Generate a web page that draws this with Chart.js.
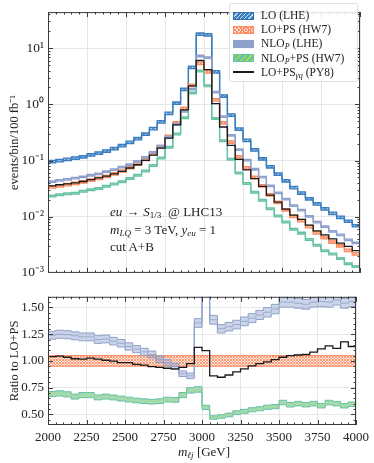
<!DOCTYPE html>
<html>
<head>
<meta charset="utf-8">
<script src="https://cdn.jsdelivr.net/npm/chart.js@4"></script>
<style>
  body { margin: 0; background: #fff; }
  #wrap { position: relative; width: 374px; height: 463px; font-family: "Liberation Serif", serif; color: #222; }
  canvas { position: absolute; left: 0; }
  #topChart { top: 0; }
  #ratioChart { top: 285px; }
  sub { font-size: 70%; vertical-align: -0.25em; line-height: 0; }
  .legend { position: absolute; left: 229px; top: 3px; width: 129px; height: 79px;
            background: rgba(255,255,255,0.85); border: 1px solid #e2e2e2; border-radius: 2px;
            box-sizing: border-box; padding-top: 4px; font-size: 11.5px; }
  .row { position: relative; height: 14.2px; line-height: 14.2px; padding-left: 31px; white-space: nowrap; }
  .sw { position: absolute; left: 3px; top: 3.5px; width: 19px; height: 6px; }
  .line { position: absolute; left: 3px; top: 6.5px; width: 21px; height: 1.4px; background: #1a1a1a; }
  .note { position: absolute; left: 110px; top: 203px; font-size: 13px; line-height: 17.5px; }
  .op { padding: 0 4px; }
  .xtitle { position: absolute; left: 48px; width: 312px; top: 444px; text-align: center; font-size: 13px; }
</style>
</head>
<body>
<div id="wrap">
  <canvas id="topChart" width="374" height="285"></canvas>
  <canvas id="ratioChart" width="374" height="178"></canvas>
  <div class="legend">
    <div class="row"><span class="sw" style="background: repeating-linear-gradient(135deg, #3a7dbf 0 2px, #cfe1f3 2px 3px); border: 1px solid #2f70b0;"></span>LO (LHE)</div>
    <div class="row"><span class="sw" style="background: repeating-linear-gradient(45deg, #fc8d62 0 1px, transparent 1px 2.5px), repeating-linear-gradient(135deg, #fc8d62 0 1px, #fde6dc 1px 2.5px); border: 1px solid #fc8d62;"></span>LO+PS (HW7)</div>
    <div class="row"><span class="sw" style="background: #8fa1cd; border: 1px solid #8da0cb;"></span>NLO<sub><i>P</i></sub> (LHE)</div>
    <div class="row"><span class="sw" style="background: repeating-linear-gradient(135deg, #a6d854 0 1.5px, #66c2a5 1.5px 4px); border: 1px solid #66c2a5;"></span>NLO<sub><i>P</i></sub>+PS (HW7)</div>
    <div class="row"><span class="line"></span>LO+PS<sub><i>γq</i></sub> (PY8)</div>
  </div>
  <div class="note">
    <div><i>eu</i><span class="op">→</span><i>S</i><sub>1/3</sub>&nbsp; @ LHC13</div>
    <div><i>m<sub>LQ</sub></i> = 3 TeV, <i>y<sub>eu</sub></i> = 1</div>
    <div>cut A+B</div>
  </div>
  <div class="xtitle"><i>m</i><sub><i>ℓj</i></sub> [GeV]</div>
</div>
<script>
// bins de 50 GeV
const binLow = [2000, 2050, 2100, 2150, 2200, 2250, 2300, 2350, 2400, 2450,
                2500, 2550, 2600, 2650, 2700, 2750, 2800, 2850, 2900, 2950,
                3000, 3050, 3100, 3150, 3200, 3250, 3300, 3350, 3400, 3450,
                3500, 3550, 3600, 3650, 3700, 3750, 3800, 3850, 3900, 3950];
const binEnd = 4000;

// panel de arriba: events/bin/100 fb^-1
const loLHE = [0.0955, 0.100, 0.105, 0.111, 0.117, 0.126, 0.136, 0.148, 0.164, 0.184,
               0.211, 0.245, 0.295, 0.372, 0.490, 0.692, 1.05, 1.86, 4.57, 17.8,
               17.4, 3.80, 1.41, 0.646, 0.363, 0.229, 0.155, 0.107, 0.0776, 0.0575,
               0.0437, 0.0331, 0.0263, 0.0209, 0.0170, 0.0138, 0.0115, 0.00977, 0.00832, 0.00692];
const loPsHW7 = [0.0339, 0.0355, 0.0372, 0.0394, 0.0417, 0.0447, 0.0484, 0.0525, 0.0582, 0.0653,
                 0.0750, 0.0871, 0.105, 0.132, 0.178, 0.269, 0.468, 0.851, 2.19, 5.37,
                 3.80, 1.20, 0.468, 0.214, 0.117, 0.0741, 0.0501, 0.0355, 0.0245, 0.0180,
                 0.0132, 0.0102, 0.00851, 0.00668, 0.00519, 0.00427, 0.00355, 0.00302, 0.00251, 0.00219];
const nloLHE = [0.0420, 0.0444, 0.0463, 0.0487, 0.0511, 0.0548, 0.0581, 0.0633, 0.0690, 0.0761,
                0.0851, 0.0967, 0.114, 0.140, 0.181, 0.264, 0.444, 0.749, 1.88, 7.28,
                6.84, 1.66, 0.608, 0.282, 0.157, 0.1015, 0.0701, 0.0508, 0.0356, 0.0267,
                0.0205, 0.0158, 0.0131, 0.0102, 0.00804, 0.00664, 0.00550, 0.00474, 0.00387, 0.00341];
const nloPsHW7 = [0.0234, 0.0247, 0.0256, 0.0262, 0.0284, 0.0304, 0.0318, 0.0350, 0.0383, 0.0422,
                  0.0479, 0.0548, 0.0654, 0.0816, 0.111, 0.172, 0.297, 0.579, 1.59, 3.94,
                  2.15, 0.564, 0.225, 0.106, 0.0603, 0.0391, 0.0272, 0.0196, 0.0139, 0.0103,
                  0.00805, 0.00601, 0.00511, 0.00393, 0.00311, 0.00248, 0.00217, 0.00181, 0.00146, 0.00130];
const loPsPY8 = [0.0353, 0.0371, 0.0385, 0.0402, 0.0424, 0.0459, 0.0492, 0.0528, 0.0580, 0.0642,
                 0.0737, 0.0843, 0.101, 0.125, 0.167, 0.250, 0.433, 0.800, 2.13, 6.05,
                 4.17, 1.03, 0.396, 0.186, 0.105, 0.0685, 0.0478, 0.0346, 0.0243, 0.0182,
                 0.0137, 0.0107, 0.00898, 0.00708, 0.00562, 0.00475, 0.00405, 0.00338, 0.00296, 0.00249];

// panel de abajo: cociente respecto a LO+PS (HW7)
const ratioLoPs = [1, 1, 1, 1, 1, 1, 1, 1, 1, 1, 1, 1, 1, 1, 1, 1, 1, 1, 1, 1,
                   1, 1, 1, 1, 1, 1, 1, 1, 1, 1, 1, 1, 1, 1, 1, 1, 1, 1, 1, 1];
const ratioNlo = [1.24, 1.25, 1.245, 1.235, 1.225, 1.225, 1.20, 1.205, 1.185, 1.165,
                  1.135, 1.11, 1.085, 1.06, 1.015, 0.983, 0.948, 0.88, 0.86, 1.355,
                  1.80, 1.385, 1.30, 1.32, 1.34, 1.37, 1.40, 1.43, 1.455, 1.485,
                  1.55, 1.55, 1.54, 1.53, 1.55, 1.555, 1.55, 1.57, 1.54, 1.555];
const ratioNloPs = [0.69, 0.696, 0.687, 0.666, 0.68, 0.68, 0.658, 0.666, 0.658, 0.647,
                    0.638, 0.629, 0.623, 0.618, 0.623, 0.638, 0.635, 0.68, 0.724, 0.733,
                    0.565, 0.47, 0.48, 0.494, 0.515, 0.528, 0.543, 0.552, 0.566, 0.572,
                    0.61, 0.589, 0.60, 0.589, 0.60, 0.58, 0.61, 0.60, 0.58, 0.595];
const ratioPy8 = [1.04, 1.045, 1.034, 1.02, 1.017, 1.026, 1.017, 1.006, 0.997, 0.983,
                  0.983, 0.968, 0.96, 0.946, 0.94, 0.931, 0.925, 0.94, 0.974, 1.126,
                  1.097, 0.86, 0.847, 0.868, 0.897, 0.925, 0.954, 0.974, 0.991, 1.011,
                  1.034, 1.049, 1.055, 1.06, 1.083, 1.112, 1.14, 1.118, 1.178, 1.135];

// incertidumbre relativa de cada banda
const uncLo = 0.05, uncLoPs = 0.05, uncNlo = 0.03, uncNloPs = 0.035;

// ticks
const xTicks = [2000, 2250, 2500, 2750, 3000, 3250, 3500, 3750, 4000];
const topTicks = [1e-3, 1e-2, 1e-1, 1, 10];
const topTickLabels = ['10⁻³', '10⁻²', '10⁻¹', '10⁰', '10¹'];
const ratioTicks = [0.5, 0.75, 1.0, 1.25, 1.5];

const serif = '"Liberation Serif", serif';

// js de los patrones rayados
function hatch(canvas, bg, fg, gap, cross) {
    const c = document.createElement('canvas');
    c.width = gap; c.height = gap;
    const g = c.getContext('2d');
    g.fillStyle = bg;
    g.fillRect(0, 0, gap, gap);
    g.strokeStyle = fg;
    g.lineWidth = 1;
    g.beginPath();
    for (let k = -1; k <= 1; k++) {
        g.moveTo(k * gap, gap); g.lineTo(k * gap + gap, 0);
        if (cross) { g.moveTo(k * gap, 0); g.lineTo(k * gap + gap, gap); }
    }
    g.stroke();
    return canvas.getContext('2d').createPattern(c, 'repeat');
}

function steps(vals, f) {
    const pts = vals.map((v, i) => ({ x: binLow[i], y: f ? f(v) : v }));
    pts.push({ x: binEnd, y: pts[pts.length - 1].y });
    return pts;
}

function band(sets, vals, unc, edge, fillStyle, order, width, center) {
    const lowIdx = sets.length;
    sets.push({ data: steps(vals, v => v * (1 - unc)), borderColor: edge, borderWidth: width, fill: false, order: order });
    sets.push({ data: steps(vals, v => v * (1 + unc)), borderColor: edge, borderWidth: width,
                backgroundColor: fillStyle, fill: { target: lowIdx }, order: order });
    if (center) {
        sets.push({ data: steps(vals), borderColor: center, borderWidth: 0.8, fill: false, order: order });
    }
}

// js de las marcas hacia adentro y el marco
const frameTicks = {
    id: 'frameTicks',
    afterDraw(chart, args, opts) {
        const { ctx, chartArea: a, scales } = chart;
        ctx.save();
        ctx.strokeStyle = '#3a3a3a';
        ctx.lineWidth = 1;
        ctx.beginPath();
        for (let v = 2000; v <= 4000; v += 50) {
            const x = Math.round(scales.x.getPixelForValue(v)) + 0.5;
            const len = v % 250 === 0 ? 5 : 2.5;
            ctx.moveTo(x, a.bottom); ctx.lineTo(x, a.bottom - len);
            ctx.moveTo(x, a.top); ctx.lineTo(x, a.top + len);
        }
        const yTick = (v, len) => {
            const y = Math.round(scales.y.getPixelForValue(v)) + 0.5;
            if (y < a.top || y > a.bottom) return;
            ctx.moveTo(a.left, y); ctx.lineTo(a.left + len, y);
            ctx.moveTo(a.right, y); ctx.lineTo(a.right - len, y);
        };
        opts.major.forEach(v => yTick(v, 5));
        opts.minor.forEach(v => yTick(v, 2.5));
        ctx.stroke();
        ctx.strokeRect(a.left + 0.5, a.top + 0.5, a.right - a.left - 1, a.bottom - a.top - 1);
        ctx.restore();
    }
};

const topMinor = [];
[-3, -2, -1, 0, 1].forEach(n => {
    for (let k = 2; k <= 9; k++) {
        const v = k * Math.pow(10, n);
        if (v <= 44) topMinor.push(v);
    }
});
const ratioMinor = [];
for (let k = 8; k <= 32; k++) {
    const v = k * 0.05;
    if (k % 5 !== 0) ratioMinor.push(v);
}

// primer grafico (arriba)
const topCanvas = document.getElementById('topChart');
const topSets = [];
band(topSets, loLHE, uncLo, '#3a7dbf', hatch(topCanvas, '#5b98d2', '#d3e4f4', 4, false), 5, 1.3);
band(topSets, loPsHW7, uncLoPs, '#fc8d62', hatch(topCanvas, '#fde2d6', '#fc8d62', 3, true), 4, 1.3);
band(topSets, nloLHE, uncNlo, '#8da0cb', 'rgba(141,160,203,0.55)', 3, 1.3);
band(topSets, nloPsHW7, uncNloPs, '#66c2a5', hatch(topCanvas, '#8fd2ba', '#c6e36a', 4, false), 2, 1.3);
topSets.push({ data: steps(loPsPY8), borderColor: '#1a1a1a', borderWidth: 1.3, fill: false, order: 1 });

new Chart(topCanvas, {
    type: 'line',
    data: { datasets: topSets },
    options: {
        responsive: false,
        animation: false,
        devicePixelRatio: 1,
        layout: { padding: { left: 0, right: 14, top: 3, bottom: 0 } },
        elements: { point: { radius: 0 }, line: { stepped: true, tension: 0 } },
        plugins: {
            legend: { display: false },
            tooltip: { enabled: false },
            frameTicks: { major: topTicks, minor: topMinor }
        },
        scales: {
            x: {
                type: 'linear', min: 2000, max: 4000,
                afterBuildTicks: s => { s.ticks = xTicks.map(v => ({ value: v })); },
                ticks: { display: false },
                grid: { color: '#e6e6e6', lineWidth: 1, drawTicks: false },
                border: { display: false },
                afterFit: s => { s.height = 9; }
            },
            y: {
                type: 'logarithmic', min: 1e-3, max: 44,
                afterBuildTicks: s => { s.ticks = topTicks.map(v => ({ value: v })); },
                ticks: {
                    callback: v => topTickLabels[topTicks.indexOf(v)],
                    font: { family: serif, size: 13.5 }, color: '#222', padding: 4
                },
                grid: { color: '#e6e6e6', lineWidth: 1, drawTicks: false },
                border: { display: false },
                title: { display: true, text: 'events/bin/100 fb⁻¹', font: { family: serif, size: 12.5 }, color: '#222', padding: { top: 7, bottom: 0 } },
                afterFit: s => { s.width = 48; }
            }
        }
    },
    plugins: [frameTicks]
});

// segundo grafico (cociente)
const ratioCanvas = document.getElementById('ratioChart');
const ratioSets = [];
band(ratioSets, ratioLoPs, uncLoPs, '#fc8d62', hatch(ratioCanvas, '#fee7dd', '#fb9a74', 3, true), 4, 1, '#fc8d62');
band(ratioSets, ratioNlo, uncNlo, '#8da0cb', 'rgba(141,160,203,0.45)', 3, 1, '#8da0cb');
band(ratioSets, ratioNloPs, uncNloPs, '#66c2a5', hatch(ratioCanvas, '#9ad6c0', '#c6e36a', 4, false), 2, 1, '#d4e86c');
ratioSets.push({ data: steps(ratioPy8), borderColor: '#1a1a1a', borderWidth: 1.3, fill: false, order: 1 });

new Chart(ratioCanvas, {
    type: 'line',
    data: { datasets: ratioSets },
    options: {
        responsive: false,
        animation: false,
        devicePixelRatio: 1,
        layout: { padding: { left: 0, right: 14, top: 5, bottom: 0 } },
        elements: { point: { radius: 0 }, line: { stepped: true, tension: 0 } },
        plugins: {
            legend: { display: false },
            tooltip: { enabled: false },
            frameTicks: { major: ratioTicks, minor: ratioMinor }
        },
        scales: {
            x: {
                type: 'linear', min: 2000, max: 4000,
                afterBuildTicks: s => { s.ticks = xTicks.map(v => ({ value: v })); },
                ticks: {
                    callback: v => String(v), maxRotation: 0, autoSkip: false,
                    font: { family: serif, size: 13 }, color: '#222', padding: 5
                },
                grid: { color: '#e6e6e6', lineWidth: 1, drawTicks: false },
                border: { display: false },
                afterFit: s => { s.height = 38; }
            },
            y: {
                type: 'linear', min: 0.4, max: 1.6,
                afterBuildTicks: s => { s.ticks = ratioTicks.map(v => ({ value: v })); },
                ticks: {
                    callback: v => v.toFixed(2),
                    font: { family: serif, size: 13 }, color: '#222', padding: 4
                },
                grid: { color: '#e6e6e6', lineWidth: 1, drawTicks: false },
                border: { display: false },
                title: { display: true, text: 'Ratio to LO+PS', font: { family: serif, size: 12.5 }, color: '#222', padding: { top: 7, bottom: 0 } },
                afterFit: s => { s.width = 48; }
            }
        }
    },
    plugins: [frameTicks]
});
</script>
</body>
</html>
